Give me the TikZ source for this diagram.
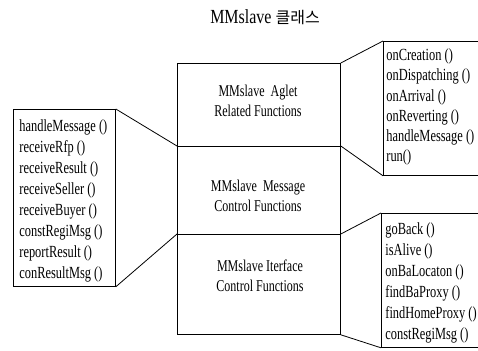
\documentclass[tikz,border=0pt]{standalone}
\usepackage{fontspec}
\setmainfont{Liberation Serif}
\newfontfamily\condfont[FakeStretch=0.73]{Liberation Serif}
\newfontfamily\titlefont[FakeStretch=0.8]{Liberation Serif}
\newfontfamily\krfont{Noto Sans CJK KR}
\begin{document}
\begin{tikzpicture}[x=1pt,y=-1pt,line width=0.8pt,
  boxnode/.style={draw,anchor=north west,inner sep=0pt,line width=0.8pt},
  listtext/.style={anchor=north west,align=left,inner sep=0pt,font=\condfont\fontsize{17}{#1}\selectfont},
  stacktext/.style={align=center,inner sep=0pt,font=\condfont\fontsize{16.5}{20}\selectfont},
  conn/.style={draw,line width=0.8pt}]
\useasboundingbox (0,0) rectangle (478,350);
% title
\node[font=\titlefont\fontsize{20}{22}\selectfont,inner sep=0pt] (title) at (265,17) {MMslave {\krfont\fontsize{16}{18}\selectfont 클래스}};
% central stack
\node[boxnode,minimum width=163pt,minimum height=83pt] (aglet) at (177,63) {};
\node[boxnode,minimum width=163pt,minimum height=88pt] (message) at (177,146) {};
\node[boxnode,minimum width=163pt,minimum height=100pt] (iface) at (177,234) {};
\node[stacktext] (agletT) at (258,101) {MMslave\ \ Aglet\\Related Functions};
\node[stacktext] (messageT) at (258,196) {MMslave\ \ Message\\Control Functions};
\node[stacktext] (ifaceT) at (260,276) {MMslave Iterface\\Control Functions};
% side boxes
\node[boxnode,minimum width=102pt,minimum height=177pt] (L) at (13,109) {};
\node[boxnode,minimum width=110pt,minimum height=134pt] (RT) at (383,41) {};
\node[boxnode,minimum width=110pt,minimum height=134pt] (RB) at (381,213) {};
\node[listtext=21.1] (LT) at (19,119) {handleMessage ()\\receiveRfp ()\\receiveResult ()\\receiveSeller ()\\receiveBuyer ()\\constRegiMsg ()\\reportResult ()\\conResultMsg ()};
\node[listtext=20.2] (RTT) at (386,48.5) {onCreation ()\\onDispatching ()\\onArrival ()\\onReverting ()\\handleMessage ()\\run()};
\node[listtext=21] (RBT) at (385,222) {goBack ()\\isAlive ()\\onBaLocaton ()\\findBaProxy ()\\findHomeProxy ()\\constRegiMsg ()};
% connectors
\draw[conn] (L.north east) -- (message.north west);
\draw[conn] (L.south east) -- (iface.north west);
\draw[conn] (aglet.north east) -- (RT.north west);
\draw[conn] (message.north east) -- (RT.south west);
\draw[conn] (iface.north east) -- (RB.north west);
\draw[conn] (iface.south east) -- (RB.south west);
\end{tikzpicture}
\end{document}
